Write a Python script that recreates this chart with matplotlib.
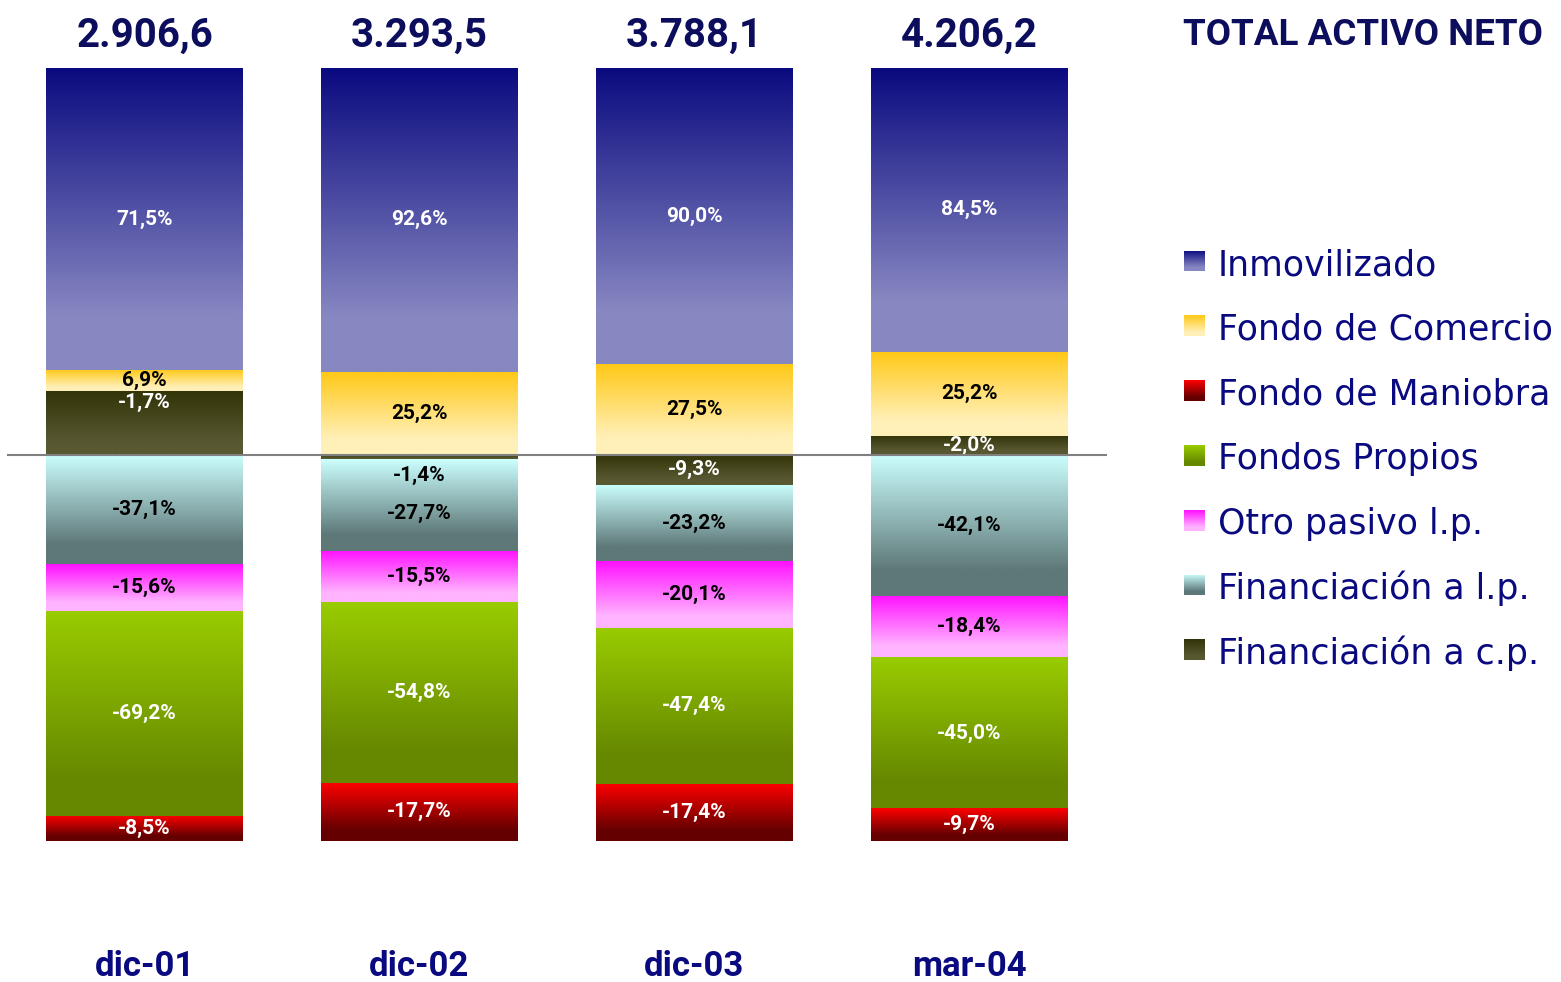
import numpy as np
import matplotlib
matplotlib.use("Agg")
import matplotlib.pyplot as plt
from matplotlib.colors import LinearSegmentedColormap

W, H = 1561, 982

periods = ["dic-01", "dic-02", "dic-03", "mar-04"]
totals = ["2.906,6", "3.293,5", "3.788,1", "4.206,2"]

# block sizes as drawn in the picture (signed)
inmovilizado = [102.0, 92.6, 90.0, 84.5]
fondo_comercio = [7.1, 25.2, 27.5, 25.2]
financiacion_cp = [21.3, -1.4, -9.3, 5.5]
financiacion_lp = [-37.1, -27.7, -23.2, -42.1]
otro_pasivo = [-15.6, -15.5, -20.1, -18.4]
fondos_propios = [-69.2, -54.8, -47.4, -45.0]
fondo_maniobra = [-8.5, -17.7, -17.4, -9.7]

# printed labels
lab_inmovilizado = ["71,5%", "92,6%", "90,0%", "84,5%"]
lab_fondo_comercio = ["6,9%", "25,2%", "27,5%", "25,2%"]
lab_financiacion_cp = ["-1,7%", "-1,4%", "-9,3%", "-2,0%"]
lab_financiacion_lp = ["-37,1%", "-27,7%", "-23,2%", "-42,1%"]
lab_otro_pasivo = ["-15,6%", "-15,5%", "-20,1%", "-18,4%"]
lab_fondos_propios = ["-69,2%", "-54,8%", "-47,4%", "-45,0%"]
lab_fondo_maniobra = ["-8,5%", "-17,7%", "-17,4%", "-9,7%"]

# (name, values, labels, top colour, bottom colour, text colour)
series = [
    ("Financiación a c.p.", financiacion_cp, lab_financiacion_cp, "#333308", "#585832", "white"),
    ("Fondo de Comercio", fondo_comercio, lab_fondo_comercio, "#ffc815", "#fff0b8", "black"),
    ("Inmovilizado", inmovilizado, lab_inmovilizado, "#0a0a80", "#8787c2", "white"),
    ("Financiación a l.p.", financiacion_lp, lab_financiacion_lp, "#ccffff", "#5e7878", "black"),
    ("Otro pasivo l.p.", otro_pasivo, lab_otro_pasivo, "#ff10ff", "#ffb4ff", "black"),
    ("Fondos Propios", fondos_propios, lab_fondos_propios, "#99cc00", "#668800", "white"),
    ("Fondo de Maniobra", fondo_maniobra, lab_fondo_maniobra, "#ff0000", "#640000", "white"),
]
legend_order = ["Inmovilizado", "Fondo de Comercio", "Fondo de Maniobra", "Fondos Propios",
                "Otro pasivo l.p.", "Financiación a l.p.", "Financiación a c.p."]

# manual label shifts seen in the original (pixels, up positive)
label_nudge = {("Financiación a c.p.", 0): 20, ("Financiación a c.p.", 1): -19,
               ("Financiación a l.p.", 1): -9}
label_color = {("Financiación a c.p.", 1): "black"}

NAVY = "#0a0a80"
DARK = "#0d0d5e"
NUM_FONT = "Roboto"


def cmap_for(top, bottom):
    return LinearSegmentedColormap.from_list("g", [(0, top), (0.82, bottom), (1, bottom)])


grad = np.linspace(0, 1, 256).reshape(-1, 1)

fig = plt.figure(figsize=(W / 100, H / 100), dpi=100)
ax = fig.add_axes([7 / W, 1 - 841 / H, 1100 / W, (841 - 68) / H])

x = np.arange(len(periods))
vals = np.array([s[1] for s in series], dtype=float)
pos_sum = np.where(vals > 0, vals, 0).sum(axis=0)
neg_sum = np.where(vals < 0, -vals, 0).sum(axis=0)
scaled = np.where(vals > 0, vals / pos_sum * 100, vals / neg_sum * 100)

pos_base = np.zeros(len(periods))
neg_base = np.zeros(len(periods))
for k, (name, _, labels, top, bottom, tcol) in enumerate(series):
    h = scaled[k]
    base = np.where(h > 0, pos_base, neg_base)
    bars = ax.bar(x, h, bottom=base, width=0.716, color="none", linewidth=0)
    cm = cmap_for(top, bottom)
    for i, patch in enumerate(bars):
        x0, x1 = patch.get_x(), patch.get_x() + patch.get_width()
        y0, y1 = sorted([base[i], base[i] + h[i]])
        im = ax.imshow(grad, cmap=cm, extent=[x0, x1, y0, y1], origin="upper",
                       aspect="auto", interpolation="bilinear", zorder=1)
        im.set_clip_path(patch)
        ax.annotate(labels[i], ((x0 + x1) / 2, (y0 + y1) / 2),
                    xytext=(0, label_nudge.get((name, i), 0)), textcoords="offset pixels",
                    ha="center", va="center", fontsize=15, fontweight="bold",
                    family=NUM_FONT, color=label_color.get((name, i), tcol), zorder=3)
    pos_base = pos_base + np.where(h > 0, h, 0)
    neg_base = neg_base + np.where(h < 0, h, 0)

ax.axhline(0, color="#808080", lw=1.5, zorder=4)
ax.set_xlim(-0.5, len(periods) - 0.5)
ax.set_ylim(-100, 100)
ax.axis("off")

for i in range(len(periods)):
    ax.annotate(totals[i], (x[i], 100), xytext=(0, 68 - 47), textcoords="offset pixels",
                ha="center", va="baseline", fontsize=29, fontweight="bold",
                family=NUM_FONT, color=DARK)
    ax.annotate(periods[i], (x[i], -100), xytext=(0, -(976 - 841)), textcoords="offset pixels",
                ha="center", va="baseline", fontsize=25, fontweight="bold",
                family=NUM_FONT, color=NAVY)

fig.text(1183 / W, 1 - 45 / H, "TOTAL ACTIVO NETO", ha="left", va="baseline",
         fontsize=26.5, fontweight="bold", family=NUM_FONT, color=DARK)

# legend with gradient swatches
by_name = {s[0]: s for s in series}
for r, name in enumerate(legend_order):
    cy = 261 + r * 64.8
    sax = fig.add_axes([1184 / W, 1 - (cy + 10.5) / H, 21 / W, 21 / H])
    sax.imshow(grad, cmap=cmap_for(by_name[name][3], by_name[name][4]), aspect="auto")
    sax.axis("off")
    fig.text(1218 / W, 1 - (cy + 14) / H, name, ha="left", va="baseline",
             fontsize=25, family="DejaVu Sans", color=NAVY)

fig.savefig("out.png", dpi=100)
